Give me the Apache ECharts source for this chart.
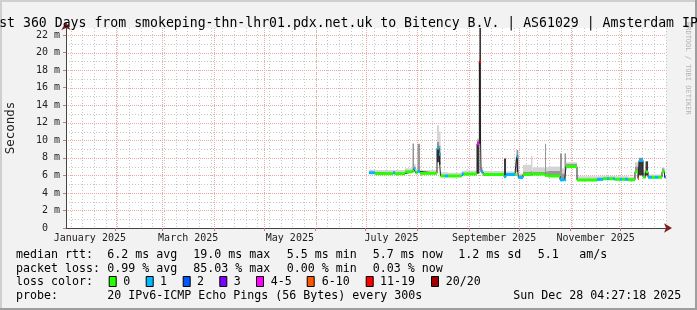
<!DOCTYPE html>
<html><head><meta charset="utf-8">
<script src="https://cdn.jsdelivr.net/npm/echarts@6/dist/echarts.min.js"></script>
<style>html,body{margin:0;padding:0;background:#f2f2f2}#c{width:697px;height:310px}</style>
</head><body><div id="c"></div>
<script>
// ---------------- data ----------------
const titleText = 'Last 360 Days from smokeping-thn-lhr01.pdx.net.uk to Bitency B.V. | AS61029 | Amsterdam IPv6';
const rangeStart = '2025-01-02 04:27:18';
const rangeEnd = '2025-12-28 04:27:18';
const dataEnd = '2025-12-27 22:00:00';
const times = ['2025-07-03 00','2025-07-06 14','2025-07-17 10','2025-07-18 14','2025-07-24 14','2025-07-29 02','2025-07-30 00','2025-07-30 22','2025-08-01 02','2025-08-02 14',
 '2025-08-12 19','2025-08-14 00','2025-08-14 22','2025-08-17 14','2025-08-19 10','2025-08-27 14','2025-08-29 00','2025-09-05 19','2025-09-07 05','2025-09-08 05',
 '2025-09-09 10','2025-09-22 00','2025-09-23 05','2025-09-28 14','2025-09-29 12','2025-09-30 14','2025-10-03 10','2025-10-08 05','2025-10-09 02','2025-10-16 14',
 '2025-10-17 05','2025-10-18 10','2025-10-25 14','2025-10-26 19','2025-10-28 07','2025-10-29 05','2025-11-04 19','2025-11-16 19','2025-11-20 10','2025-11-22 19',
 '2025-11-24 00','2025-11-26 10','2025-11-27 14','2025-11-30 14','2025-12-01 19','2025-12-03 14','2025-12-05 10','2025-12-09 14','2025-12-11 10','2025-12-12 00',
 '2025-12-14 10','2025-12-15 22','2025-12-17 10','2025-12-19 19','2025-12-21 14','2025-12-23 10','2025-12-25 19','2025-12-27 07'];
const median = [6.30,6.20,6.30,6.20,6.40,6.50,6.75,6.30,6.45,6.23,
 9.10,8.40,5.93,5.93,5.93,6.15,6.15,9.60,19.0,6.40,
 6.10,5.85,6.10,6.10,8.10,5.75,6.10,6.10,6.15,6.00,
 6.00,5.93,5.50,5.50,5.50,7.00,5.47,5.55,5.62,5.62,
 5.62,5.62,5.55,5.55,5.55,5.55,5.50,6.40,5.65,7.70,
 5.80,6.40,5.78,5.78,5.78,5.78,6.40,5.80];
const loss = [1,0,1,0,0,0,1,0,1,0,
 1,1,0,1,0,1,0,5,15,1,
 0,1,1,0,1,1,0,0,0,0,
 0,0,1,1,1,0,0,1,0,1,
 0,1,0,1,0,1,0,0,8,1,
 0,0,1,0,1,0,0,2];
const smokeLow = [6.30,6.20,6.30,6.20,6.40,6.50,6.75,6.30,6.45,6.23,
 7.50,7.20,5.93,5.93,5.93,6.15,6.15,6.20,9.60,6.40,
 6.10,5.85,6.10,6.10,6.40,5.75,6.10,6.10,6.15,6.00,
 6.00,5.93,5.50,5.50,5.50,7.00,5.47,5.55,5.62,5.62,
 5.62,5.62,5.55,5.55,5.55,5.55,5.50,6.40,5.65,6.00,
 5.80,6.00,5.78,5.78,5.78,5.78,6.40,5.80];
const smokeDark = [6.30,6.20,6.30,6.20,6.40,6.50,6.75,6.30,6.45,6.23,
 9.30,8.60,5.93,5.93,5.93,6.15,6.15,9.80,22.9,6.40,
 6.10,7.90,6.10,6.10,8.30,5.75,6.10,6.10,6.15,6.00,
 6.00,5.93,5.50,5.50,5.50,7.00,5.47,5.55,5.62,5.62,
 5.62,5.62,5.55,5.55,5.55,5.55,5.50,6.40,5.65,7.90,
 5.80,7.60,5.78,5.78,5.78,5.78,6.40,5.80];
const smokeMid = [6.35,6.30,6.35,6.30,6.50,9.60,7.00,6.40,9.60,6.35,
 9.80,9.40,6.00,6.00,6.00,6.25,6.30,10.0,22.9,6.60,
 6.25,7.95,6.20,6.25,8.90,6.00,6.40,6.50,6.40,9.60,
 6.45,6.50,8.50,6.20,8.50,7.30,5.60,5.65,5.70,5.70,
 5.70,5.70,5.65,5.65,5.65,5.65,5.60,7.00,5.80,8.00,
 6.30,7.60,5.90,5.90,5.90,5.90,6.80,5.90];
const smokeTop = [6.65,6.60,6.60,6.60,6.80,9.70,7.30,6.70,9.60,6.60,
 11.7,11.0,6.35,6.35,6.30,6.50,6.55,10.2,22.9,6.90,
 6.50,8.00,6.45,6.50,8.90,6.20,7.20,8.20,6.90,9.60,
 6.90,7.00,8.50,6.80,8.50,7.50,5.90,5.90,5.95,5.95,
 5.95,5.95,5.90,5.90,5.90,5.90,5.85,7.50,6.10,8.00,
 6.60,7.60,6.10,6.10,6.10,6.10,6.90,6.10];
const yTicks = [0,2,4,6,8,10,12,14,16,18,20,22];
const yMinorTicks = [1,3,5,7,9,11,13,15,17,19,21];
const monthLabels = ['January 2025','March 2025','May 2025','July 2025','September 2025','November 2025'];
const monthStarts = ['2025-02-01','2025-03-01','2025-04-01','2025-05-01','2025-06-01','2025-07-01','2025-08-01','2025-09-01','2025-10-01','2025-11-01','2025-12-01'];
const lossLabels = ['0','1','2','3','4-5','6-10','11-19','20/20'];
const lossColors = ['#26ff00','#00b8ff','#0059ff','#7e00ff','#ff00ff','#ff5500','#ff0000','#a10000'];
const rttStats = ['6.2 ms avg','19.0 ms max','5.5 ms min','5.7 ms now','1.2 ms sd','5.1','am/s'];
const lossStats = ['0.99 % avg','85.03 % max','0.00 % min','0.03 % now'];
const probeText = '20 IPv6-ICMP Echo Pings (56 Bytes) every 300s';
const stampText = 'Sun Dec 28 04:27:18 2025';

// ---------------- layout ----------------
const MONO = '"DejaVu Sans Mono", monospace';
const statCols = [107.3,193.3,286.7,372.7,458.3,537.7,579.3];
const boxCols = [108.7,145.7,182.7,219.3,256,306.7,365.7,431];
const boxLabelCols = [123.3,160,197,233.7,270.7,321.7,380,445.7];

const T = s => Date.UTC(+s.slice(0,4), +s.slice(5,7)-1, +s.slice(8,10), +(s.slice(11,13)||0), +(s.slice(14,16)||0), +(s.slice(17,19)||0));
const xMin = T(rangeStart), xMax = T(rangeEnd);
const lossColor = l => l===0?lossColors[0]:l===1?lossColors[1]:l===2?lossColors[2]:l===3?lossColors[3]:l<=5?lossColors[4]:l<=10?lossColors[5]:l<=19?lossColors[6]:lossColors[7];

const segs = times.map((t,i)=>[T(t), T(i+1<times.length?times[i+1]:dataEnd), median[i], loss[i], smokeLow[i], smokeDark[i], smokeMid[i], smokeTop[i]]);
const medLine = times.map((t,i)=>[T(t), median[i]]).concat([[T(dataEnd), median[median.length-1]]]);

const monthIdx = {January:0,March:2,May:4,July:6,September:8,November:10};
const labelVals = monthLabels.map(m=>{const mi=monthIdx[m.split(' ')[0]];return (Date.UTC(2025,mi,1)+Date.UTC(2025,mi+1,1))/2;});
const labelMap = {}; labelVals.forEach((v,i)=>labelMap[v]=monthLabels[i]);
const monthVals = monthStarts.map(T);
const weekVals = []; for (let t=Date.UTC(2025,0,5); t<=xMax; t+=7*864e5) weekVals.push(t);

const smokeSeries = {
  type:'custom', z:1, silent:true, clip:true,
  data: segs,
  encode:{x:[0,1], y:[2]},
  renderItem(params, api){
    const t0=api.value(0), t1=api.value(1), m=api.value(2), lo=api.value(4), dk=api.value(5), md=api.value(6), tp=api.value(7);
    const x0=api.coord([t0,0])[0], x1=api.coord([t1,0])[0];
    const y=v=>api.coord([t0,v])[1];
    const band=(a,b,c)=> b>a ? {type:'rect', shape:{x:x0,y:y(b),width:x1-x0,height:y(a)-y(b)}, style:{fill:c}} : null;
    return {type:'group', children:[band(md,tp,'#d4d4d4'), band(dk,md,'#979797'), band(m,dk,'#3a3a3a'), band(lo,m,'#3a3a3a')].filter(Boolean)};
  }
};
const lossSeries = {
  type:'custom', z:4, silent:true, clip:true,
  data: segs,
  encode:{x:[0,1], y:[2]},
  renderItem(params, api){
    const t0=api.value(0), t1=api.value(1), m=api.value(2), l=api.value(3);
    const p0=api.coord([t0,m]), p1=api.coord([t1,m]);
    return {type:'rect', shape:{x:p0[0], y:p0[1]-1.5, width:p1[0]-p0[0], height:3}, style:{fill:lossColor(l)}};
  }
};
// grid lines, snapped to the pixel grid
const vGrid = (vals, color, dash) => ({
  type:'custom', z:0, silent:true, data: vals.map(v=>[v, 0]), encode:{x:0, y:1},
  renderItem(params, api){
    const cs = params.coordSys;
    const x = Math.round(api.coord([api.value(0), 0])[0]) + 0.5;
    return {type:'line', shape:{x1:x, y1:cs.y, x2:x, y2:cs.y+cs.height}, style:{stroke:color, lineWidth:1, lineDash:dash}};
  }
});
const hGrid = (vals, color, dash) => ({
  type:'custom', z:0, silent:true, data: vals.map(v=>[xMin, v]), encode:{x:0, y:1},
  renderItem(params, api){
    const cs = params.coordSys;
    const y = Math.round(api.coord([xMin, api.value(1)])[1]) + 0.5;
    return {type:'line', shape:{x1:cs.x, y1:y, x2:cs.x+cs.width, y2:y}, style:{stroke:color, lineWidth:1, lineDash:dash}};
  }
});

const legendGraphics = [];
const txt = (s,x,y)=>({type:'text', silent:true, style:{text:s, x:x, y:y, font:'11.63px '+MONO, fill:'#000', align:'left', verticalAlign:'middle'}});
legendGraphics.push(txt('median rtt:',16,254.5));
rttStats.forEach((s,i)=>legendGraphics.push(txt(s,statCols[i],254.5)));
legendGraphics.push(txt('packet loss:',16,268.5));
lossStats.forEach((s,i)=>legendGraphics.push(txt(s,statCols[i],268.5)));
legendGraphics.push(txt('loss color:',16,282));
lossLabels.forEach((s,i)=>{
  legendGraphics.push({type:'rect', silent:true, shape:{x:boxCols[i]+0.5,y:276.5,width:7,height:10}, style:{fill:lossColors[i], stroke:'#000', lineWidth:1}});
  legendGraphics.push(txt(s,boxLabelCols[i],282));
});
legendGraphics.push(txt('probe:',16,296));
legendGraphics.push(txt(probeText,107.3,296));
legendGraphics.push(txt(stampText,513.3,296));
legendGraphics.push({type:'rect', silent:true, z:-1, shape:{x:0,y:0,width:697,height:2}, style:{fill:'#cfcfcf'}});
legendGraphics.push({type:'rect', silent:true, z:-1, shape:{x:0,y:0,width:2,height:310}, style:{fill:'#cfcfcf'}});
legendGraphics.push({type:'rect', silent:true, z:-1, shape:{x:0,y:308,width:697,height:2}, style:{fill:'#9e9e9e'}});
legendGraphics.push({type:'rect', silent:true, z:-1, shape:{x:695,y:0,width:2,height:310}, style:{fill:'#9e9e9e'}});
legendGraphics.push({type:'text', silent:true, x:688, y:22, rotation:-Math.PI/2, style:{text:'RRDTOOL / TOBI OETIKER', font:'7px '+MONO, fill:'#b4b4b4', align:'left', verticalAlign:'middle'}});

const option = {
  animation:false,
  backgroundColor:'#f2f2f2',
  title:{text:titleText, left:'center', top:11, textStyle:{fontFamily:MONO, fontSize:13.2, fontWeight:'normal', color:'#000', lineHeight:16}},
  grid:{left:66, top:28, width:600, height:200, show:true, backgroundColor:'#fff', borderWidth:0, containLabel:false, outerBoundsMode:'none'},
  xAxis:[{
    type:'value', min:xMin, max:xMax,
    axisLine:{show:true, lineStyle:{color:'#444', width:1}},
    axisTick:{show:true, customValues:monthVals, length:3, lineStyle:{color:'#e07070'}},
    axisLabel:{show:true, customValues:labelVals, formatter:v=>labelMap[v]||'', fontFamily:MONO, fontSize:10, color:'#222', margin:5, hideOverlap:false, alignMinLabel:'center', alignMaxLabel:'center'},
    splitLine:{show:false}
  },{
    type:'value', min:xMin, max:xMax, position:'bottom',
    axisLine:{show:true, symbol:['none','arrow'], symbolSize:[7,8], symbolOffset:[0,6], lineStyle:{color:'#7f1f1f', width:0}},
    axisTick:{show:false}, axisLabel:{show:false}, splitLine:{show:false}
  }],
  yAxis:[{
    type:'value', min:0, max:22.8, interval:2,
    name:'Seconds', nameLocation:'middle', nameGap:49, nameRotate:90, nameMoveOverlap:false,
    nameTextStyle:{fontFamily:MONO, fontSize:12.5, color:'#222'},
    axisLine:{show:true, lineStyle:{color:'#444', width:1}},
    axisTick:{show:true, customValues:yTicks, length:3, lineStyle:{color:'#e07070'}},
    axisLabel:{show:true, customValues:yTicks, formatter:v=>v===0?'0  ':(v+' m'), fontFamily:MONO, fontSize:10, color:'#222', margin:6},
    splitLine:{show:false}
  },{
    type:'value', min:0, max:22.8, position:'left',
    axisLine:{show:true, symbol:['none','arrow'], symbolSize:[7,8], symbolOffset:[0,6], lineStyle:{color:'#7f1f1f', width:0}},
    axisTick:{show:false}, axisLabel:{show:false}, splitLine:{show:false}
  }],
  series:[
    vGrid(weekVals, '#c6c6c6', [1,2]),
    hGrid(yMinorTicks, '#c6c6c6', [1,2]),
    vGrid(monthVals, '#eeaaaa', [1,1]),
    hGrid(yTicks.filter(v=>v>0), '#eeaaaa', [1,1]),
    smokeSeries,
    {type:'line', z:3, step:'end', data:medLine, symbol:'none', silent:true, lineStyle:{color:'#202020', width:1}},
    lossSeries
  ],
  graphic:legendGraphics
};
const chart = echarts.init(document.getElementById('c'));
chart.setOption(option);
</script></body></html>
